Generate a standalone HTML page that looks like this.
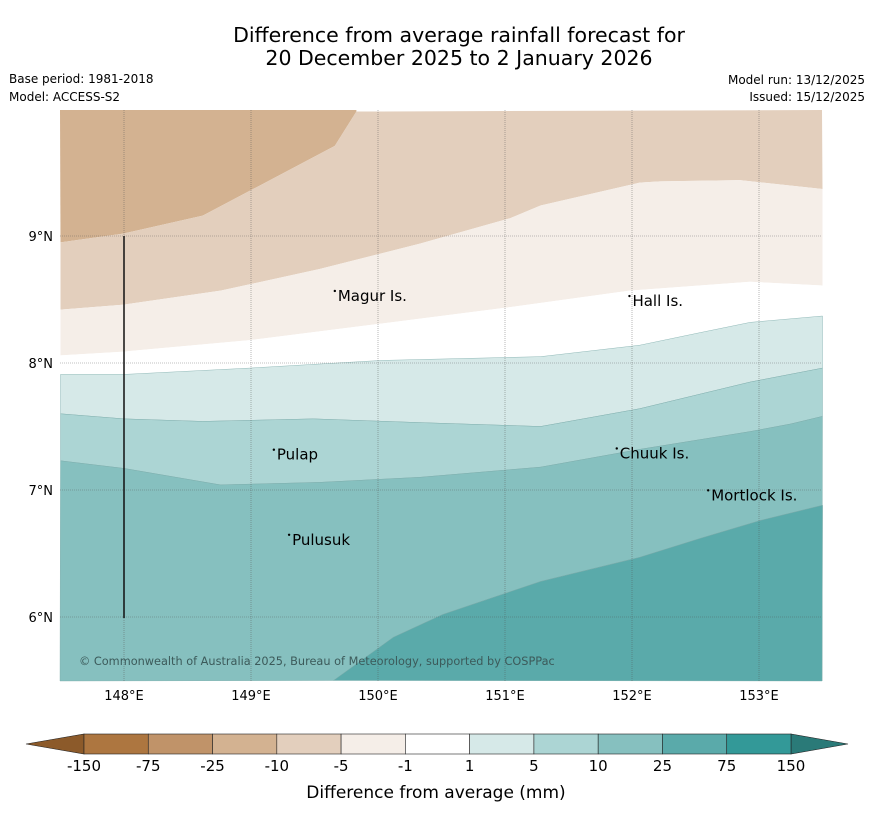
<!DOCTYPE html>
<html><head><meta charset="utf-8"><style>
body{margin:0;background:#fff;font-family:"Liberation Sans","DejaVu Sans",sans-serif}
</style></head><body>
<svg width="873" height="816" xmlns="http://www.w3.org/2000/svg" font-family="DejaVu Sans, Liberation Sans, sans-serif">
<text x="459" y="42" font-size="20.5" text-anchor="middle">Difference from average rainfall forecast for</text>
<text x="459" y="65" font-size="20.5" text-anchor="middle">20 December 2025 to 2 January 2026</text>
<text x="9" y="83" font-size="12">Base period: 1981-2018</text>
<text x="9" y="101" font-size="12">Model: ACCESS-S2</text>
<text x="865" y="84" font-size="12" text-anchor="end">Model run: 13/12/2025</text>
<text x="865" y="101" font-size="12" text-anchor="end">Issued: 15/12/2025</text>
<g id="map"></g>
<g id="cbar"></g>
<text x="436" y="798" font-size="17" text-anchor="middle">Difference from average (mm)</text>
</svg>
<script>
const NS="http://www.w3.org/2000/svg";
const lonTicks=[148,149,150,151,152,153];
const latTicks=[9,8,7,6];
const levels=["-150","-75","-25","-10","-5","-1","1","5","10","25","75","150"];
const colors=["#ad7640","#c09369","#d3b291","#e3cfbd","#f5eee8","#ffffff","#d6e9e8","#acd5d4","#86c0bf","#5aaaaa","#339998"];
const bandColors=["#d3b291","#e3cfbd","#f5eee8","#ffffff","#d6e9e8","#acd5d4","#86c0bf","#5aaaaa"];
const boundaries=[
[[147.5,8.95],[148,9.02],[148.62,9.16],[149.66,9.71],[149.83,9.98]],
[[147.5,8.42],[148,8.46],[148.76,8.57],[149.54,8.74],[150.33,8.94],[151.04,9.14],[151.28,9.24],[152.06,9.42],[152.22,9.43],[152.85,9.44],[153.5,9.37]],
[[147.5,8.06],[148,8.09],[148.99,8.18],[150.02,8.31],[151.04,8.44],[151.98,8.57],[152.93,8.64],[153.5,8.61]],
[[147.5,7.91],[148,7.91],[148.99,7.96],[150.02,8.02],[151.28,8.05],[152.06,8.14],[152.54,8.24],[152.93,8.32],[153.5,8.37]],
[[147.5,7.60],[148,7.56],[148.62,7.54],[149.49,7.56],[150.35,7.53],[151.28,7.50],[152.06,7.64],[152.93,7.85],[153.5,7.96]],
[[147.5,7.23],[148,7.17],[148.76,7.04],[149.54,7.06],[150.33,7.10],[151.28,7.18],[152.06,7.32],[152.93,7.46],[153.25,7.52],[153.5,7.58]],
[[149.65,5.5],[150.12,5.84],[150.51,6.02],[151.28,6.28],[152.06,6.47],[152.54,6.62],[153.01,6.76],[153.5,6.88]]
];
const islands=[["Magur Is.",149.66,8.52],["Hall Is.",151.98,8.48],["Pulap",149.18,7.27],["Chuuk Is.",151.88,7.28],["Mortlock Is.",152.6,6.95],["Pulusuk",149.3,6.6]];
const X0=60,X1=822,Y0=110,Y1=681;
const xs=lon=>124+(lon-148)*127;
const ys=lat=>236-(lat-9)*127;
function el(t,a,p){const e=document.createElementNS(NS,t);for(const k in a)e.setAttribute(k,a[k]);p.appendChild(e);return e;}
const map=document.getElementById('map');
const P=arr=>arr.map(p=>[xs(p[0]),ys(p[1])]);
for(let i=0;i<bandColors.length;i++){
  let all;
  if(i===0){all=[[X0,Y0]].concat(P(boundaries[0])).concat([[xs(149.83),Y0]]);}
  else if(i===1){all=[[X0,Y0]].concat(P(boundaries[0])).concat([[X1,Y0]]).concat([[X1,Y0]]).concat(P(boundaries[1]).reverse());
    all=P(boundaries[0]).concat([[X1,Y0]]).concat(P(boundaries[1]).reverse());}
  else if(i===6){all=P(boundaries[5]).concat([[X1,Y1]]).concat(P(boundaries[6]).reverse()).concat([[X0,Y1]]);}
  else if(i===7){all=P(boundaries[6]).concat([[X1,Y1]]);}
  else all=P(boundaries[i-1]).concat(P(boundaries[i]).reverse());
  const pg=el('polygon',{points:all.map(p=>p.join(',')).join(' '),fill:bandColors[i],stroke:i>3?'#7aa9a8':'none','stroke-width':0.4},map);
  
  
}
lonTicks.forEach(l=>{
  const ln=el('line',{x1:xs(l),x2:xs(l),y1:Y0,y2:Y1,stroke:'#555','stroke-width':0.6,'stroke-dasharray':'1,1',opacity:0.7},map);
  
  
  const t=el('text',{x:xs(l),y:700,'font-size':13,'text-anchor':'middle'},map);t.textContent=l+'°E';
  
  
});
latTicks.forEach(l=>{
  const ln=el('line',{x1:X0,x2:X1,y1:ys(l),y2:ys(l),stroke:'#555','stroke-width':0.6,'stroke-dasharray':'1,1',opacity:0.7},map);
  
  
  const t=el('text',{x:53,y:ys(l)+5,'font-size':13,'text-anchor':'end'},map);t.textContent=l+'°N';
  
  
});
const vl=el('line',{x1:124,x2:124,y1:236,y2:618,stroke:'#111','stroke-width':1.5},map);


islands.forEach(s=>{
  const d=el('circle',{cx:xs(s[1]),cy:ys(s[2])-6,r:1.2,fill:'#000'},map);
  
  
  const t=el('text',{x:xs(s[1])+3,y:ys(s[2])+4,'font-size':15},map);t.textContent=s[0];
  
  
});
const cp=el('text',{x:79,y:665,'font-size':11.3,fill:'#3c5a5a'},map);cp.textContent='© Commonwealth of Australia 2025, Bureau of Meteorology, supported by COSPPac';


const cb=document.getElementById('cbar');
const cx0=84,cw=(791-84)/11,cy=734,ch=20;
const tl=el('polygon',{points:`26,744 ${cx0},${cy} ${cx0},${cy+ch}`,fill:'#8c5a2a',stroke:'#222','stroke-width':0.6},cb);


const tr=el('polygon',{points:`848,744 791,${cy} 791,${cy+ch}`,fill:'#2a7a78',stroke:'#222','stroke-width':0.6},cb);


colors.forEach((c,i)=>{
  const r=el('rect',{x:cx0+i*cw,y:cy,width:cw,height:ch,fill:c,stroke:'#222','stroke-width':0.6},cb);
  
  
});
levels.forEach((v,i)=>{
  const t=el('text',{x:cx0+i*cw,y:771,'font-size':15,'text-anchor':'middle'},cb);t.textContent=v;
  
  
});
</script>
</body></html>
